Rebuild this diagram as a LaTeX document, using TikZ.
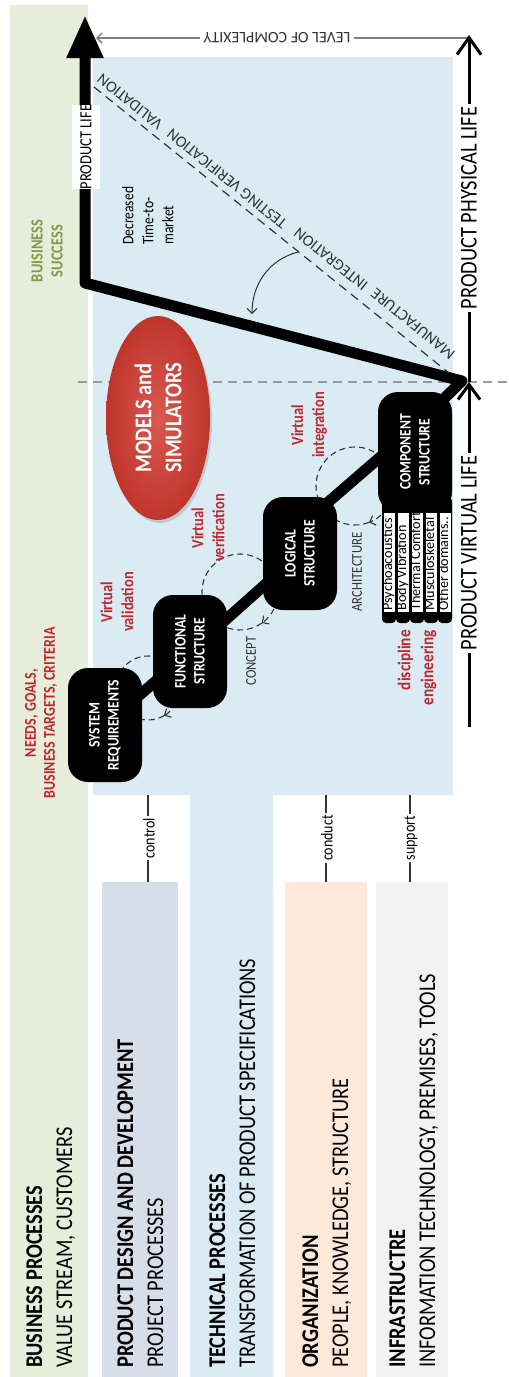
\documentclass[tikz,border=0pt]{standalone}
\usepackage{fontspec}
\setmainfont{Carlito}
\newfontfamily\narrowfont[FakeStretch=0.85]{Carlito}
\usetikzlibrary{arrows.meta,shapes.geometric,calc,shadows}

\definecolor{bizgreen}{HTML}{E6EDDA}
\definecolor{techblue}{HTML}{DAEBF3}
\definecolor{pddblue}{HTML}{D6DEEA}
\definecolor{orgpeach}{HTML}{FCE9DA}
\definecolor{infgray}{HTML}{F2F2F2}
\definecolor{accentred}{HTML}{C1272D}
\definecolor{olivetext}{HTML}{809A48}
\definecolor{inkgray}{HTML}{333333}
\definecolor{rulegray}{HTML}{808080}
\definecolor{ellred}{HTML}{D43B31}

\pgfdeclarelayer{bg}
\pgfdeclarelayer{mid}
\pgfsetlayers{bg,mid,main}

\begin{document}
\begin{tikzpicture}[x=1pt,y=-1pt,
  vert/.style={rotate=90,inner sep=0pt},
  bandhead/.style={vert,anchor=base west,font=\narrowfont\bfseries\fontsize{24}{29}\selectfont},
  bandsub/.style={vert,anchor=base west,font=\narrowfont\fontsize{24}{29}\selectfont},
  stage/.style={vert,fill=black,rounded corners=20pt,minimum height=74pt,
     text=white,align=center,font=\narrowfont\bfseries\fontsize{16}{19}\selectfont},
  redlbl/.style={vert,align=center,text=accentred,font=\narrowfont\bfseries\fontsize{17}{21}\selectfont},
  smalllbl/.style={vert,text=inkgray,font=\narrowfont\fontsize{15}{18}\selectfont},
  linklbl/.style={vert,inner xsep=2pt,font=\narrowfont\fontsize{16.5}{19}\selectfont},
  linkline/.style={inkgray,line width=1.3pt},
  bigtext/.style={vert,inner xsep=3pt,font=\narrowfont\fontsize{24}{29}\selectfont},
  diaglbl/.style={rotate=141.1,inner sep=0pt,text=inkgray,font=\fontsize{16}{19}\selectfont},
  loopline/.style={inkgray,line width=1.1pt,dash pattern=on 6pt off 4pt},
  loophead/.style={-{Straight Barb[length=5pt,width=10pt]}},
  lifeline/.style={line width=3pt},
  discbar/.style={vert,fill=white,minimum height=11pt,inner sep=0pt,
     text height=8.5pt,text depth=2.5pt,font=\fontsize{14.2}{16}\selectfont},
]
\useasboundingbox (0,0) rectangle (509,1377);

% ---------- background bands ----------
\begin{pgfonlayer}{bg}
\fill[bizgreen] (10,5) rectangle (88,1377);
\fill[techblue] (93,57) rectangle (453,795);
\fill[techblue] (190,795) rectangle (273,1377);
\fill[pddblue] (102,882) rectangle (178,1377);
\fill[orgpeach] (285,882) rectangle (367,1377);
\fill[infgray] (376,882) rectangle (448,1377);
\coordinate (hzL) at (78,382);
\coordinate (hzR) at (509,382);
\draw[rulegray!80,line width=1.2pt,dash pattern=on 9pt off 6pt] (hzL) -- (hzR);
\end{pgfonlayer}

% ---------- band titles ----------
\node[bandhead] (bpT) at (42,1368) {BUSINESS PROCESSES};
\node[bandsub]  (bpS) at (72,1368) {VALUE STREAM, CUSTOMERS};
\node[bandhead] (pdT) at (133,1368) {PRODUCT DESIGN AND DEVELOPMENT};
\node[bandsub]  (pdS) at (163,1368) {PROJECT PROCESSES};
\node[bandhead] (tpT) at (225,1368) {TECHNICAL PROCESSES};
\node[bandsub]  (tpS) at (255,1368) {TRANSFORMATION OF PRODUCT SPECIFICATIONS};
\node[bandhead] (orT) at (318,1368) {ORGANIZATION};
\node[bandsub]  (orS) at (348,1368) {PEOPLE, KNOWLEDGE, STRUCTURE};
\node[bandhead] (inT) at (405,1368) {INFRASTRUCTRE};
\node[bandsub]  (inS) at (435,1368) {INFORMATION TECHNOLOGY, PREMISES, TOOLS};

% ---------- links between the bands and the process area ----------
\node[linklbl] (ctl) at (149,838) {control};
\node[linklbl] (cnd) at (327,838) {conduct};
\node[linklbl] (spt) at (411,838) {support};
\foreach \n/\x in {ctl/148,cnd/326,spt/410}{
  \coordinate (\n A) at (\x,795);
  \coordinate (\n B) at (\x,882);
  \draw[linkline] (\n A) -- (\n A |- \n.east);
  \draw[linkline] (\n B |- \n.west) -- (\n B);
}

% ---------- development stages ----------
\node[stage,minimum width=114pt] (sr) at (105,725) {SYSTEM\\REQUIREMENTS};
\node[stage,minimum width=113pt] (fs) at (190,651.5) {FUNCTIONAL\\STRUCTURE};
\node[stage,minimum width=113pt] (ls) at (300,553.5) {LOGICAL\\STRUCTURE};
\node[stage,minimum width=120pt] (cs) at (415,452) {COMPONENT\\STRUCTURE};

% engineering discipline bars under the component stage
\foreach \i/\t in {0/Psychoacoustics,1/Body Vibration,2/Thermal Comfort,3/Musculoskeletal,4/Other domains..}{
  \fill[black,rounded corners=4pt] (382+14*\i,497) rectangle (396+14*\i,623);
  \node[discbar] (dom\i) at (389+14*\i,562.5) {\makebox[99pt][l]{\hspace{1.5pt}\t}};
}

% ---------- product life path ----------
\coordinate (apex) at (462,381);
\coordinate (knee) at (85,283);
\coordinate (lifetop) at (85,15);
\begin{pgfonlayer}{mid}
\draw[line width=11pt,line join=round,-{Triangle[length=43pt,width=34pt]}]
  (sr.center) -- (fs.center) -- (ls.center) -- ($(ls.center)+(0,-27)$)
  -- ($(cs.center)+(0,-25)$) -- (apex) -- (knee) -- (lifetop);

% verification loops between stages
\coordinate (c1) at (148,688);
\draw[loopline,loophead] ($(c1)+(-240:32)$) arc[start angle=-240,delta angle=300,radius=32];
\draw[loopline] ($(c1)+(60:32)$) arc[start angle=60,delta angle=60,radius=32];
\coordinate (c2) at (240,592);
\draw[loopline,loophead] ($(c2)+(-245:38)$) arc[start angle=-245,delta angle=300,radius=38];
\draw[loopline] ($(c2)+(55:38)$) arc[start angle=55,delta angle=60,radius=38];
\coordinate (c3) at (355,486);
\draw[loopline,loophead] ($(c3)+(-231:39)$) arc[start angle=-231,delta angle=300,radius=39];
\draw[loopline] ($(c3)+(69:39)$) arc[start angle=69,delta angle=60,radius=39];

% physical test chain
\coordinate (dgA) at (94,87);
\coordinate (dgB) at (449,373);
\draw[inkgray,line width=1.2pt,dash pattern=on 9pt off 6pt] (dgA) -- (dgB);
\coordinate (gainA) at (298,252);
\coordinate (gainB) at (252,314);
\draw[inkgray,line width=1pt,-{Straight Barb[length=5pt,width=10pt]}]
  (gainA) .. controls (268,260) and (252,285) .. (gainB);
\end{pgfonlayer}

\node[vert,fill=white,minimum width=83pt,minimum height=28pt,
  font=\narrowfont\fontsize{17}{20}\selectfont] (pl) at (86,147) {PRODUCT LIFE};

\node[diaglbl] (vdn) at (130,102) {VALIDATION};
\node[diaglbl] (tvn) at (227,179) {TESTING VERIFICATION};
\node[diaglbl] (itg) at (331,259) {INTEGRATION};
\node[diaglbl] (mfc) at (413,324) {MANUFACTURE};

% ---------- models and simulators ----------
\node[ellipse,vert,minimum width=204pt,minimum height=104pt,
  inner color=ellred!85!white,outer color=ellred!90!black,
  drop shadow={opacity=0.3,shadow xshift=2pt,shadow yshift=-3pt},
  text=white,align=center,font=\narrowfont\bfseries\fontsize{24}{30}\selectfont]
  (ms) at (158,418) {MODELS and\\SIMULATORS};

% ---------- labels ----------
\node[vert,anchor=west,align=left,font=\narrowfont\fontsize{16}{20}\selectfont]
  (ttm) at (148,245) {Decreased\\Time-to-\\market};
\node[vert,align=center,text=olivetext,font=\narrowfont\bfseries\fontsize{17}{20}\selectfont]
  (bs) at (47,251) {BUISINESS\\SUCCESS};
\node[redlbl,font=\narrowfont\bfseries\fontsize{16.5}{19}\selectfont]
  (needs) at (41,713) {NEEDS, GOALS,\\BUSINESS TARGETS, CRITERIA};
\node[redlbl] (vval) at (117,602) {Virtual\\validation};
\node[redlbl] (vver) at (208,528) {Virtual\\verification};
\node[redlbl] (vint) at (309,425) {Virtual\\integration};
\node[redlbl,anchor=east,align=right,font=\narrowfont\bfseries\fontsize{18}{23}\selectfont]
  (disc) at (417,630) {discipline\\engineering};
\node[smalllbl] (concept) at (251,661) {CONCEPT};
\node[smalllbl] (arch) at (357,572) {ARCHITECTURE};

% ---------- complexity axis ----------
\node[rotate=180,inner xsep=3pt,inner ysep=0pt,text=inkgray,font=\fontsize{16}{19}\selectfont]
  (lc) at (277,38) {LEVEL OF COMPLEXITY};
\coordinate (lcR) at (468,38);
\coordinate (lcL) at (96,38);
\draw[rulegray,line width=1.5pt] (lcR) -- (lc.west);
\draw[rulegray,line width=1.5pt,-{Straight Barb[length=5pt,width=10pt]}] (lc.east) -- (lcL);

% ---------- virtual / physical life axis ----------
\node[bigtext] (phys) at (469,208) {PRODUCT PHYSICAL LIFE};
\node[bigtext] (virt) at (469,553) {PRODUCT VIRTUAL LIFE};
\coordinate (physTop) at (469,35);
\coordinate (split) at (469,382);
\coordinate (virtBase) at (469,727);
\draw[lifeline] (split) -- (phys.west);
\draw[lifeline,-{Straight Barb[length=17pt,width=24pt]}] (phys.east) -- (physTop);
\draw[lifeline] (virtBase) -- (virt.west);
\draw[lifeline,-{Straight Barb[length=15pt,width=22pt]}] (virt.east) -- (split);
\end{tikzpicture}
\end{document}
